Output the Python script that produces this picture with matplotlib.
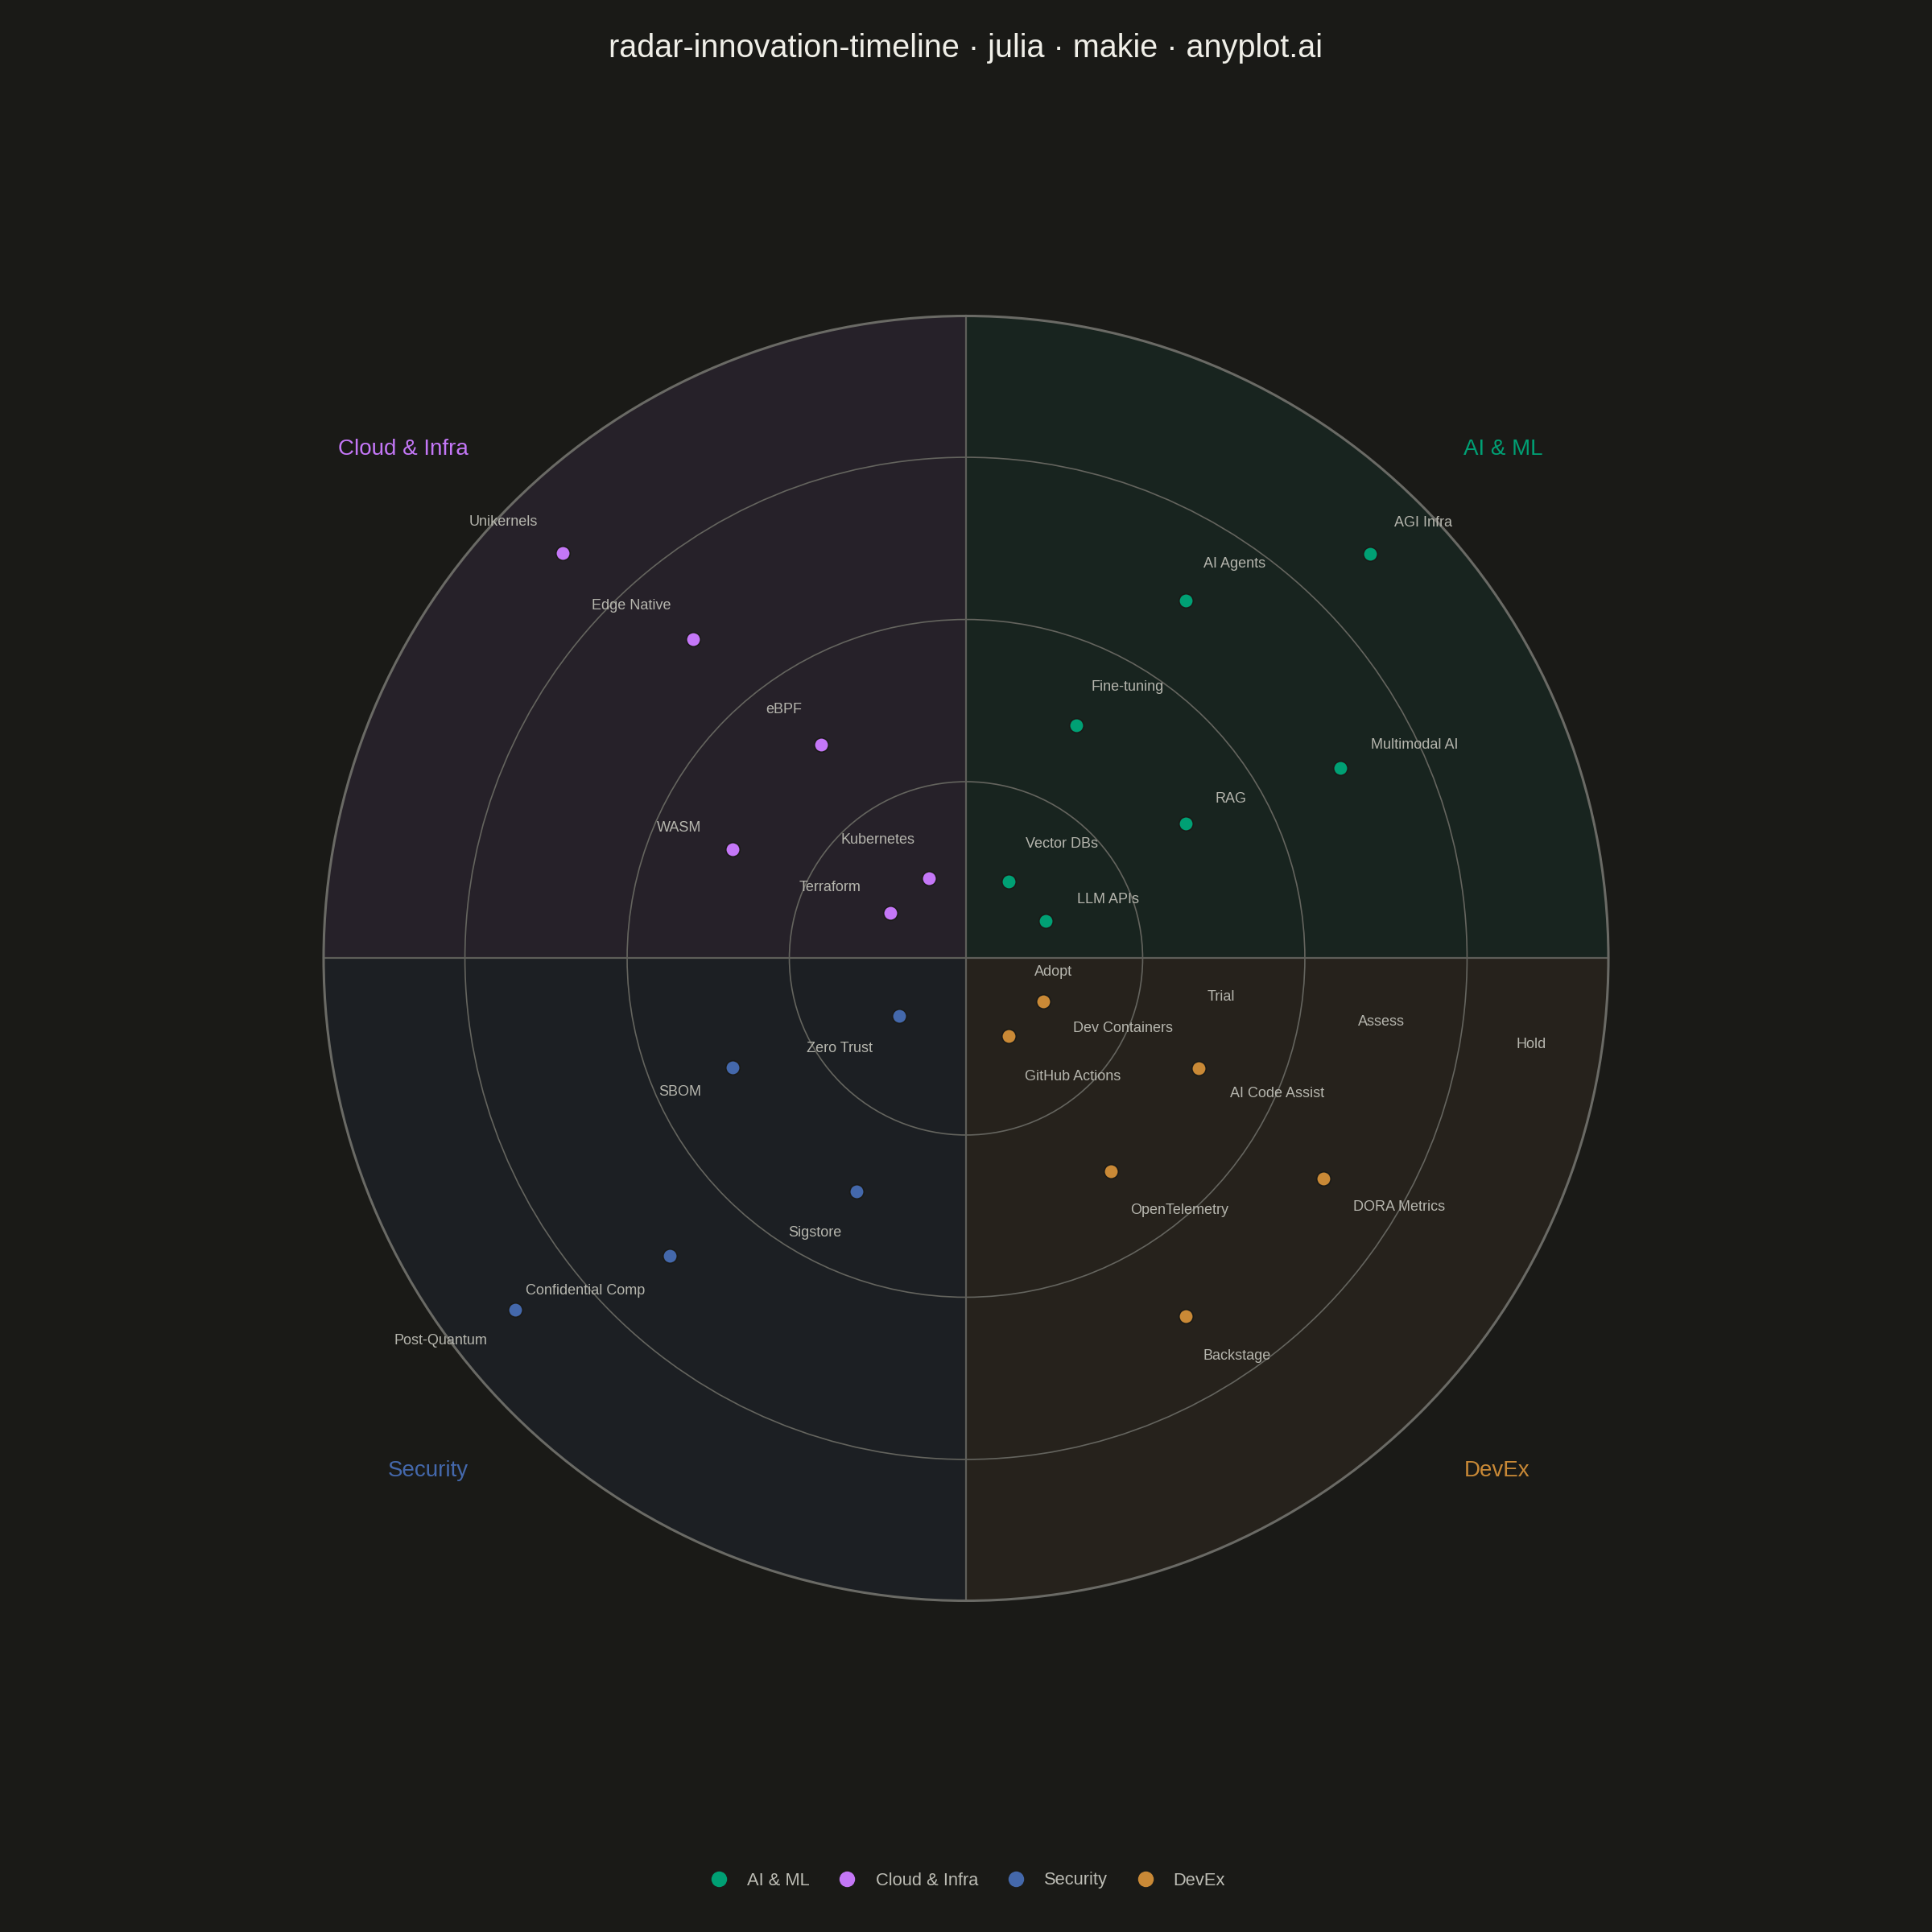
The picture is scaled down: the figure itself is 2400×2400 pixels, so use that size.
import matplotlib
matplotlib.use("Agg")
import matplotlib.pyplot as plt
import numpy as np
from matplotlib.patches import Wedge, Circle
from matplotlib.lines import Line2D

plt.rcParams["font.family"] = ["Liberation Sans", "DejaVu Sans"]

# Quadrants (counter-clockwise from the positive x axis)
quadrants = ["AI & ML", "Cloud & Infra", "Security", "DevEx"]
quadrant_colors = ["#00A074", "#C477F7", "#4468AB", "#C98936"]
quadrant_fills = ["#18241F", "#262129", "#1C1F23", "#26221C"]
quadrant_start = [0, 90, 180, 270]

# Rings
rings = ["Adopt", "Trial", "Assess", "Hold"]
ring_edges = [0.0, 1.1, 2.11, 3.12, 4.0]

# Technologies: quadrant index, ring index, angle in degrees
tech_names = [
    "AGI Infra", "AI Agents", "Multimodal AI", "Fine-tuning", "RAG", "Vector DBs", "LLM APIs",
    "Unikernels", "Edge Native", "eBPF", "WASM", "Kubernetes", "Terraform",
    "Zero Trust", "SBOM", "Sigstore", "Confidential Comp", "Post-Quantum",
    "Dev Containers", "GitHub Actions", "AI Code Assist", "OpenTelemetry", "DORA Metrics", "Backstage",
]
tech_quadrant = [0, 0, 0, 0, 0, 0, 0,
                 1, 1, 1, 1, 1, 1,
                 2, 2, 2, 2, 2,
                 3, 3, 3, 3, 3, 3]
tech_ring = [3, 2, 2, 1, 1, 0, 0,
             3, 2, 1, 1, 0, 0,
             0, 1, 1, 2, 3,
             0, 0, 1, 1, 2, 2]
tech_angle = [45.0, 58.5, 27.0, 64.7, 31.5, 61.0, 25.0,
              134.9, 130.5, 124.1, 154.9, 114.6, 148.8,
              220.6, 205.0, 244.8, 225.1, 217.9,
              330.9, 298.7, 334.7, 304.2, 328.4, 301.5]

bg = "#1A1A17"
text_col = "#B6B6AE"
ring_mid = [(ring_edges[i] + ring_edges[i + 1]) / 2 for i in range(len(rings))]
R = ring_edges[-1]

fig = plt.figure(figsize=(12, 12), dpi=200, facecolor=bg)
ax = fig.add_axes([0, 0, 1, 1])
ax.set_facecolor(bg)

# map data units onto the 2400 px canvas (centre at 1200, 1190.5; outer ring 798 px)
ppu = 798 / R
cx, cy = 1200, 1190.5
ax.set_xlim(-cx / ppu, (2400 - cx) / ppu)
ax.set_ylim(-(2400 - cy) / ppu, cy / ppu)
ax.axis("off")

# Quadrant backgrounds
for q in range(len(quadrants)):
    ax.add_patch(Wedge((0, 0), R, quadrant_start[q], quadrant_start[q] + 90,
                       facecolor=quadrant_fills[q], edgecolor="none", zorder=1))

# Ring circles
for r in ring_edges[1:-1]:
    ax.add_patch(Circle((0, 0), r, fill=False, edgecolor="#64645E", linewidth=0.6, zorder=2))
ax.add_patch(Circle((0, 0), R, fill=False, edgecolor="#6A6A65", linewidth=1.1, zorder=3))

# Quadrant dividers
ax.plot([-R, R], [0, 0], color="#5E5E59", linewidth=0.8, zorder=2)
ax.plot([0, 0], [-R, R], color="#5E5E59", linewidth=0.8, zorder=2)

# Ring labels
lab_ang = np.radians(-8.7)
for i, name in enumerate(rings):
    ax.text(ring_mid[i] * np.cos(lab_ang), ring_mid[i] * np.sin(lab_ang), name,
            ha="center", va="center", fontsize=6.5, color=text_col, zorder=4)

# Quadrant labels, just outside the outer ring on the diagonals
for q, name in enumerate(quadrants):
    a = np.radians(quadrant_start[q] + 45)
    sx, sy = np.sign(np.cos(a)), np.sign(np.sin(a))
    ax.text(sx * 3.10, sy * 3.18 - 0.012, name,
            ha="left" if sx > 0 else "right", va="center",
            fontsize=10, color=quadrant_colors[q], zorder=4)

# Technology points and labels
for name, q, ring, ang in zip(tech_names, tech_quadrant, tech_ring, tech_angle):
    t = np.radians(ang)
    x, y = ring_mid[ring] * np.cos(t), ring_mid[ring] * np.sin(t)
    ax.scatter(x, y, s=40, color=quadrant_colors[q], edgecolors=bg, linewidths=0.6, zorder=5)
    off = 15.4
    dy = 0.0 if np.sin(t) > 0 else -1.6
    ax.annotate(name, xy=(x, y), xytext=(off * np.cos(t), off * np.sin(t) + dy),
                textcoords="offset points",
                ha="left" if np.cos(t) > 0 else "right",
                va="bottom" if np.sin(t) > 0 else "top",
                fontsize=6.5, color=text_col, zorder=6)

# Title
fig.text(0.5, 1 - 60 / 2400, "radar-innovation-timeline · julia · makie · anyplot.ai",
         ha="center", va="center", fontsize=14.25, color="#F0EFE8")

# Legend
handles = [Line2D([], [], marker="o", linestyle="none", markersize=7,
                  markerfacecolor=c, markeredgewidth=0) for c in quadrant_colors]
fig.legend(handles, quadrants, loc="center", bbox_to_anchor=(0.5 + 2 / 2400, 1 - 2336 / 2400),
           ncol=4, frameon=False, fontsize=7.9, labelcolor="#BDBDB5",
           handlelength=1.0, handletextpad=1.1, columnspacing=1.63)

fig.savefig("out.png", dpi=200, facecolor=bg)
